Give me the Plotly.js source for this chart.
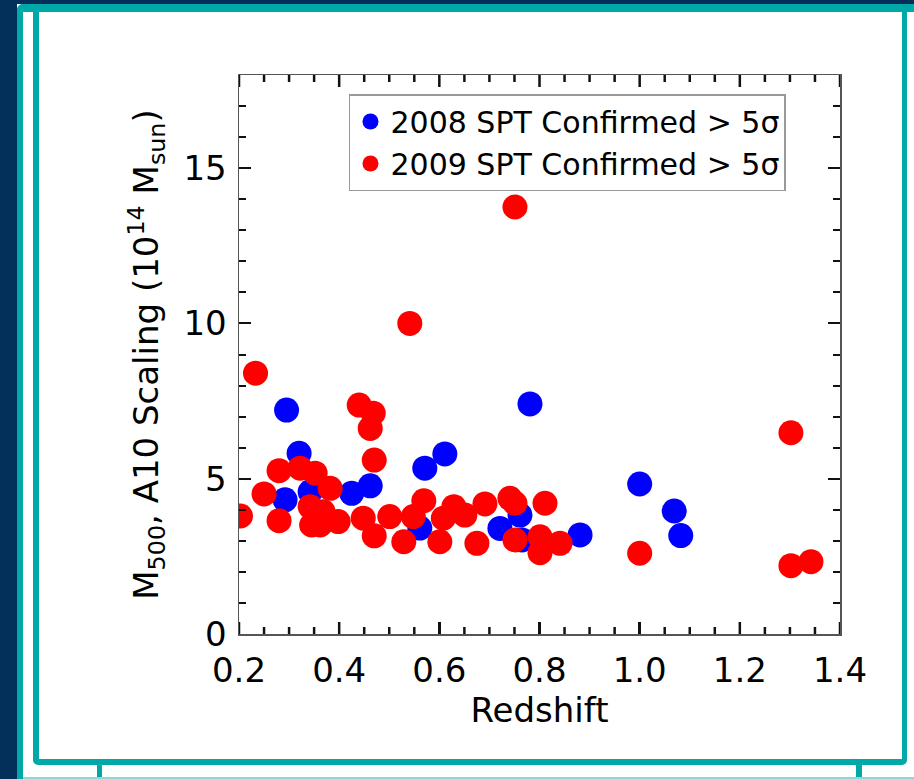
<!DOCTYPE html>
<html>
<head>
<meta charset="utf-8">
<script src="https://cdn.plot.ly/plotly-3.0.1.min.js"></script>
<style>
  html, body { margin: 0; padding: 0; width: 914px; height: 779px; overflow: hidden; background: #ffffff; }
  .abs { position: absolute; box-sizing: border-box; }
  #chart { position: absolute; left: 0; top: 0; width: 914px; height: 779px; z-index: 5; }
</style>
</head>
<body>
<div class="abs" style="left:0;top:0;width:17px;height:779px;background:#03305a;"></div>
<div class="abs" style="left:0;top:0;width:914px;height:4px;background:#03305a;"></div>
<div class="abs" style="left:17px;top:4px;width:920px;height:800px;border-left:6px solid #00a8a8;border-top:8px solid #00a8a8;border-top-left-radius:6px;"></div>
<div class="abs" style="left:33px;top:4px;width:874px;height:761px;border:6px solid #00a8a8;border-top-width:8px;border-right-width:5px;border-radius:5px;"></div>
<div class="abs" style="left:97px;top:764px;width:5px;height:15px;background:#00a8a8;"></div>
<div class="abs" style="left:856px;top:764px;width:6px;height:15px;background:#00a8a8;"></div>
<div class="abs" style="left:23px;top:777px;width:891px;height:2px;background:#8fd6d6;"></div>
<div id="chart"></div>
<script>
// Redshift and mass values
const z2008 = [0.295, 0.320, 0.292, 0.342, 0.425, 0.462, 0.571, 0.611, 0.781, 0.561, 0.721, 0.761, 0.765, 0.881, 1.000, 1.069, 1.082];
const m2008 = [7.21, 5.82, 4.32, 4.58, 4.53, 4.77, 5.34, 5.80, 7.41, 3.41, 3.40, 3.83, 3.03, 3.19, 4.83, 3.96, 3.17];

const z2009 = [0.233, 0.541, 0.751, 0.440, 0.468, 0.462, 0.470, 1.302, 0.280, 0.322, 0.352, 0.382, 0.250, 0.203,
               0.280, 0.342, 0.368, 0.345, 0.362, 0.398, 0.448, 0.470, 0.501, 0.529, 0.569, 0.548, 0.601, 0.608,
               0.629, 0.651, 0.691, 0.675, 0.741, 0.751, 0.751, 0.801, 0.811, 0.801, 0.841, 1.000, 1.302, 1.342];
const m2009 = [8.40, 10.00, 13.75, 7.37, 7.11, 6.62, 5.60, 6.48, 5.26, 5.34, 5.18, 4.69, 4.51, 3.80,
               3.65, 4.10, 3.94, 3.51, 3.51, 3.62, 3.73, 3.16, 3.78, 2.97, 4.29, 3.78, 2.97, 3.73,
               4.10, 3.83, 4.19, 2.92, 4.37, 4.21, 3.03, 2.62, 4.21, 3.13, 2.92, 2.60, 2.20, 2.33];

const seriesNames = ['2008 SPT Confirmed > 5σ', '2009 SPT Confirmed > 5σ'];
const xMajorTicks = [0.2, 0.4, 0.6, 0.8, 1.0, 1.2, 1.4];
const xMajorText = ['0.2', '0.4', '0.6', '0.8', '1.0', '1.2', '1.4'];
const xMinorTicks = [0.25, 0.30, 0.35, 0.45, 0.50, 0.55, 0.65, 0.70, 0.75, 0.85, 0.90, 0.95,
                     1.05, 1.10, 1.15, 1.25, 1.30, 1.35];
const yMajorTicks = [0, 5, 10, 15];
const xRange = [0.2, 1.4];
const yRange = [0, 18];

const FONT = '"DejaVu Sans", "Liberation Sans", sans-serif';
const TICKC = '#111111';
const TICKW = 2.5;

const traces = [
  { x: z2008, y: m2008, name: seriesNames[0], type: 'scatter', mode: 'markers',
    marker: { color: '#0000ff', size: 25, line: { width: 0 } } },
  { x: z2009, y: m2009, name: seriesNames[1], type: 'scatter', mode: 'markers',
    marker: { color: '#ff0000', size: 25, line: { width: 0 } } },
  // empty trace carrying the right-hand (mirrored) tick axis
  { x: [], y: [], xaxis: 'x', yaxis: 'y2', type: 'scatter', mode: 'markers', showlegend: false, hoverinfo: 'skip' }
];

// x-axis tick marks on bottom and top edges, placed through the x scale
function xTickShapes(vals, len) {
  const out = [];
  vals.forEach(function (v) {
    [[0, len], [1, -len]].forEach(function (p) {
      out.push({ type: 'line', xref: 'x', yref: 'paper', x0: v, x1: v,
                 ysizemode: 'pixel', yanchor: p[0], y0: 0, y1: p[1],
                 line: { color: TICKC, width: TICKW }, layer: 'above' });
    });
  });
  return out;
}

const tickFont = { family: FONT, size: 34, color: '#000000' };
const yMinor = { tickmode: 'linear', tick0: 0, dtick: 1, ticks: 'inside', ticklen: 7, tickwidth: 2, tickcolor: TICKC };

const layout = {
  width: 914, height: 779,
  margin: { l: 239, r: 74, t: 75, b: 145, pad: 0 },
  paper_bgcolor: 'rgba(0,0,0,0)',
  plot_bgcolor: '#ffffff',
  font: { family: FONT, color: '#000000' },
  showlegend: true,
  legend: {
    x: 0.183, y: 0.966, xanchor: 'left', yanchor: 'top',
    bgcolor: '#ffffff', bordercolor: '#999999', borderwidth: 1.5,
    font: { family: FONT, size: 30, color: '#000000' },
    itemclick: false
  },
  xaxis: {
    range: xRange, showgrid: false, zeroline: false,
    showline: true, linecolor: '#555555', linewidth: 1.5, mirror: true,
    tickmode: 'array', tickvals: xMajorTicks, ticktext: xMajorText,
    ticks: 'inside', ticklen: 12, tickwidth: TICKW, tickcolor: TICKC,
    tickfont: tickFont, ticklabelstandoff: 6,
    title: { text: 'Redshift', font: { family: FONT, size: 34, color: '#000000' }, standoff: 4 }
  },
  yaxis: {
    range: yRange, showgrid: false, zeroline: false,
    showline: true, linecolor: '#555555', linewidth: 1.5, mirror: true,
    tickmode: 'array', tickvals: yMajorTicks,
    ticks: 'inside', ticklen: 12, tickwidth: 2, tickcolor: TICKC,
    tickfont: tickFont, ticklabelstandoff: 4,
    minor: yMinor,
    title: { text: 'M<sub>500</sub>, A10 Scaling (10<sup>14</sup> M<sub>sun</sub>)', font: { family: FONT, size: 34, color: '#000000' }, standoff: 14 }
  },
  yaxis2: {
    range: yRange, overlaying: 'y', side: 'right', anchor: 'x',
    showgrid: false, zeroline: false, showline: false, showticklabels: false,
    tickmode: 'array', tickvals: yMajorTicks,
    ticks: 'inside', ticklen: 12, tickwidth: 2, tickcolor: TICKC,
    minor: yMinor
  },
  shapes: xTickShapes(xMajorTicks, 12).concat(xTickShapes(xMinorTicks, 7))
};

Plotly.newPlot('chart', traces, layout, { displayModeBar: false, staticPlot: true });
</script>
</body>
</html>
